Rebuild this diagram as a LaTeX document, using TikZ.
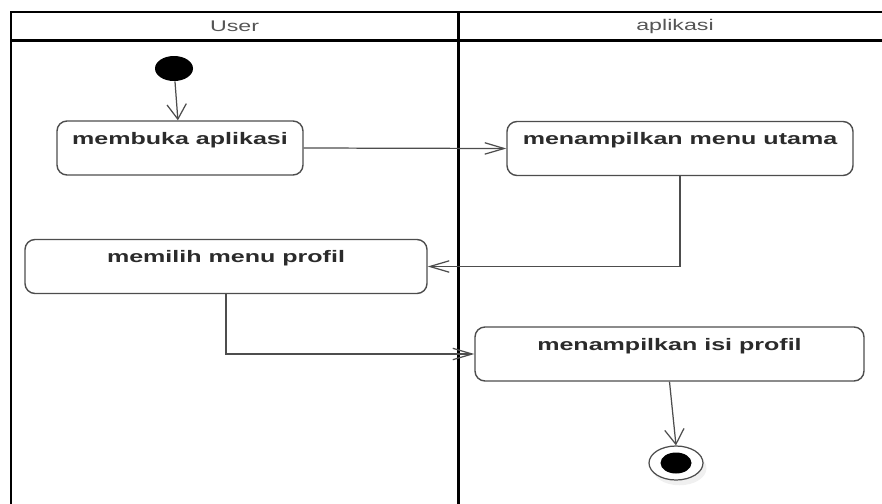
\documentclass[tikz,border=0pt]{standalone}
\usepackage{fontspec}
\setmainfont{Liberation Sans}[FakeStretch=1.5]
\usetikzlibrary{positioning, arrows.meta, shapes.geometric, shadows}
\definecolor{lanegray}{HTML}{555555}
\definecolor{boxgray}{HTML}{4D4D4D}
\definecolor{textdark}{HTML}{2B2B2B}

\begin{document}
\begin{tikzpicture}[
    % Styles
    lane/.style={draw=black, line width=1.7pt},
    lanetitle/.style={font=\fontsize{8.8}{10}\selectfont, text=lanegray},
    actbox/.style={rectangle, draw=boxgray, line width=0.8pt, fill=white, rounded corners=0.2cm, inner xsep=0pt, inner ysep=0pt, text height=0.46cm, text depth=0.62cm, font=\bfseries\fontsize{9.5}{11}\selectfont, text=textdark},
    startnode/.style={ellipse, fill=black, minimum width=0.76cm, minimum height=0.5cm, inner sep=0pt},
    endnode/.style={ellipse, draw=boxgray, line width=0.7pt, fill=white, minimum width=1.08cm, minimum height=0.68cm, inner sep=0pt, drop shadow={shadow xshift=2pt, shadow yshift=-3pt, opacity=0.12},
        path picture={\fill[black] (path picture bounding box.center) ellipse (0.31 and 0.21);}},
    flowh/.style={-{Straight Barb[length=11pt, width=6.5pt]}, boxgray, line width=0.7pt},
    flowv/.style={-{Straight Barb[length=8.5pt, width=11pt]}, boxgray, line width=0.7pt}
]

\useasboundingbox (0,0) rectangle (17.64,10.06);
\clip (0,0) rectangle (17.64,10.06);

% ==================== SWIMLANES ====================
\draw[lane] (0.22,-0.5) -- (0.22,9.82) -- (17.84,9.82) -- (17.84,-0.5);
\draw[lane] (0.22,9.25) -- (17.84,9.25);
\draw[lane] (9.16,9.82) -- (9.16,-0.5);

\node[lanetitle] (user) at (4.69, 9.535) {User};
\node[lanetitle] (app) at (13.5, 9.535) {aplikasi};

% ==================== ACTIVITIES ====================
\node[startnode] (start) at (3.48, 8.69) {};
\node[actbox, minimum width=4.92cm] (buka) at (3.6, 7.1) {membuka aplikasi};
\node[actbox, minimum width=6.92cm] (utama) at (13.6, 7.09) {menampilkan menu utama};
\node[actbox, minimum width=8.04cm] (pilih) at (4.52, 4.73) {memilih menu profil};
\node[actbox, minimum width=7.78cm] (isi) at (13.39, 2.98) {menampilkan isi profil};
\node[endnode] (finish) at (13.52, 0.8) {};

% ==================== FLOWS ====================
\draw[flowv] (start) -- (buka);
\draw[flowh] (buka.east) -- (utama.west);
\draw[flowh] (utama.south) |- (pilih.east);
\draw[flowh] (pilih.south) |- (isi.west);
\draw[flowv] (isi.south) -- (finish.north);

\end{tikzpicture}
\end{document}
